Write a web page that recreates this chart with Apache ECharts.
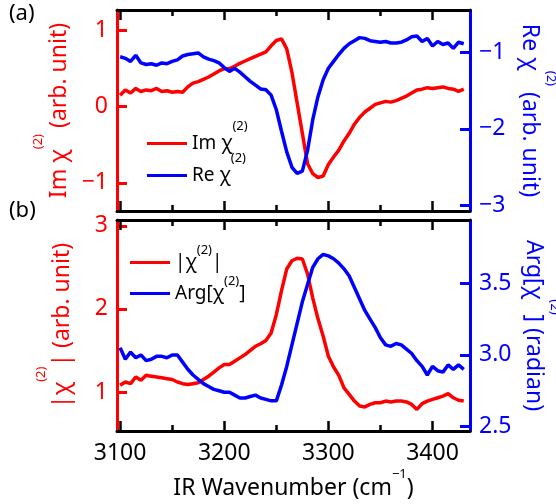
<!DOCTYPE html>
<html>
<head>
<meta charset="utf-8">
<script src="https://cdn.jsdelivr.net/npm/echarts@6/dist/echarts.min.js"></script>
<style>
  html, body { margin: 0; padding: 0; background: #fff; }
  #chart { width: 556px; height: 504px; }
</style>
</head>
<body>
<div id="chart"></div>
<script>
// IR wavenumber samples (cm^-1)
const wavenumber = [
  3100, 3105, 3110, 3115, 3120, 3125, 3130, 3135, 3140, 3145,
  3150, 3155, 3160, 3165, 3170, 3175, 3180, 3185, 3190, 3195,
  3200, 3205, 3210, 3215, 3220, 3225, 3230, 3235, 3240, 3245,
  3250, 3255, 3260, 3265, 3270, 3275, 3280, 3285, 3290, 3295,
  3300, 3305, 3310, 3315, 3320, 3325, 3330, 3335, 3340, 3345,
  3350, 3355, 3360, 3365, 3370, 3375, 3380, 3385, 3390, 3395,
  3400, 3405, 3410, 3415, 3420, 3425, 3430
];

// (a) imaginary part (left axis)
const imChi = [
  0.15, 0.22, 0.18, 0.24, 0.20, 0.22, 0.21, 0.24, 0.20, 0.21,
  0.19, 0.20, 0.19, 0.26, 0.31, 0.33, 0.36, 0.39, 0.43, 0.47,
  0.50, 0.50, 0.53, 0.57, 0.60, 0.63, 0.66, 0.69, 0.72, 0.80,
  0.87, 0.89, 0.76, 0.45, 0.05, -0.35, -0.75, -0.88, -0.93, -0.91,
  -0.76, -0.66, -0.57, -0.45, -0.35, -0.23, -0.14, -0.07, -0.02, 0.03,
  0.05, 0.07, 0.06, 0.08, 0.11, 0.14, 0.18, 0.22, 0.23, 0.25,
  0.24, 0.25, 0.26, 0.24, 0.23, 0.20, 0.23
];

// (a) real part (right axis)
const reChi = [
  -1.06, -1.08, -1.12, -1.04, -1.14, -1.16, -1.15, -1.17, -1.14, -1.15,
  -1.12, -1.10, -1.05, -1.03, -1.02, -1.01, -1.06, -1.09, -1.11, -1.14,
  -1.20, -1.25, -1.21, -1.26, -1.32, -1.38, -1.43, -1.48, -1.49, -1.56,
  -1.75, -2.03, -2.30, -2.50, -2.58, -2.55, -2.28, -1.88, -1.58, -1.36,
  -1.21, -1.12, -1.03, -0.95, -0.89, -0.85, -0.81, -0.82, -0.85, -0.86,
  -0.87, -0.86, -0.88, -0.88, -0.87, -0.84, -0.80, -0.79, -0.86, -0.82,
  -0.92, -0.86, -0.90, -0.88, -0.95, -0.87, -0.89
];

// (b) amplitude (left axis)
const absChi = [
  1.08, 1.12, 1.10, 1.18, 1.14, 1.20, 1.19, 1.18, 1.17, 1.16,
  1.15, 1.12, 1.10, 1.09, 1.10, 1.11, 1.15, 1.19, 1.24, 1.29,
  1.33, 1.33, 1.37, 1.41, 1.45, 1.50, 1.55, 1.58, 1.62, 1.71,
  1.93, 2.22, 2.48, 2.58, 2.61, 2.60, 2.42, 2.13, 1.88, 1.67,
  1.43, 1.30, 1.20, 1.05, 0.97, 0.89, 0.83, 0.82, 0.85, 0.87,
  0.87, 0.89, 0.88, 0.89, 0.89, 0.88, 0.85, 0.79, 0.86, 0.89,
  0.91, 0.93, 0.95, 0.98, 0.93, 0.90, 0.89
];

// (b) phase in radian (right axis)
const argChi = [
  3.05, 2.97, 3.02, 2.98, 3.00, 2.96, 2.97, 2.99, 2.99, 2.98,
  3.00, 3.00, 2.95, 2.90, 2.86, 2.83, 2.80, 2.78, 2.76, 2.75,
  2.74, 2.74, 2.72, 2.70, 2.70, 2.71, 2.72, 2.70, 2.69, 2.68,
  2.68, 2.79, 2.92, 3.07, 3.22, 3.37, 3.49, 3.61, 3.67, 3.70,
  3.69, 3.67, 3.64, 3.60, 3.55, 3.47, 3.39, 3.31, 3.25, 3.19,
  3.12, 3.07, 3.06, 3.08, 3.07, 3.04, 3.01, 2.96, 2.92, 2.86,
  2.92, 2.89, 2.88, 2.93, 2.90, 2.93, 2.90
];

// tick values
const xMajorTicks = [3100, 3200, 3300, 3400];
const xMinorTicks = [3150, 3250, 3350];
const imTicks = [-1, 0, 1];
const reTicks = [-3, -2, -1];
const absTicks = [1, 2, 3];
const argTicks = [2.5, 3.0, 3.5];

const FONT = '"Noto Sans", "Noto Sans CJK JP", sans-serif';
const RED = '#ff0000';
const BLUE = '#0000ff';
const X_MIN = 3097, X_MAX = 3436;

const pairs = ys => wavenumber.map((x, i) => [x, ys[i]]);
const minus = v => String(v).replace('-', '\u2212');

// superscript: small text lifted by bottom padding
function supRich(color, size, lift) {
  return {
    s: { fontSize: size, color: color, fontFamily: FONT, padding: [0, 0, lift, 0] }
  };
}

function xAxisDef(gridIndex, position, ticks, len, showLine, extra) {
  return Object.assign({
    type: 'value', gridIndex: gridIndex, position: position,
    min: X_MIN, max: X_MAX,
    axisLine: { show: showLine, onZero: false, lineStyle: { color: '#000', width: 3 } },
    axisTick: { show: true, inside: true, length: len, customValues: ticks,
                lineStyle: { color: '#000', width: 2.5 } },
    axisLabel: { show: false },
    splitLine: { show: false }
  }, extra || {});
}

function yAxisDef(gridIndex, position, min, max, ticks, color, fmt, name, nameRotate, gap) {
  return {
    type: 'value', gridIndex: gridIndex, position: position, min: min, max: max,
    axisLine: { show: true, onZero: false, lineStyle: { color: color, width: 3 } },
    axisTick: { show: true, inside: true, length: 10, customValues: ticks,
                lineStyle: { color: color, width: 3 } },
    axisLabel: { show: true, customValues: ticks, formatter: fmt, color: color,
                 fontSize: 23, fontFamily: FONT, margin: 9 },
    splitLine: { show: false },
    name: name, nameLocation: 'middle', nameGap: gap, nameRotate: nameRotate,
    nameTextStyle: { color: color, fontSize: 23, fontFamily: FONT, rich: supRich(color, 13, 42) }
  };
}

const legendText = {
  'Im': 'Im \u03c7{s|(2)}',
  'Re': 'Re \u03c7{s|(2)}',
  'Abs': '|\u03c7{s|(2)}|',
  'Arg': 'Arg[\u03c7{s|(2)}]'
};

function legendDef(name, left, top, lift) {
  return {
    data: [name], orient: 'vertical', left: left, top: top,
    icon: 'rect', itemWidth: 40, itemHeight: 3, itemGap: 0,
    formatter: n => legendText[n],
    textStyle: { color: '#000', fontSize: 19, fontFamily: FONT, rich: supRich('#000', 13, lift) },
    selectedMode: false
  };
}

const chart = echarts.init(document.getElementById('chart'), null, { renderer: 'canvas' });

chart.setOption({
  animation: false,
  backgroundColor: '#fff',
  grid: [
    { left: 117, top: 10, width: 353, height: 201, containLabel: false, outerBoundsMode: 'none' },
    { left: 117, top: 220, width: 353, height: 211, containLabel: false, outerBoundsMode: 'none' }
  ],
  xAxis: [
    xAxisDef(0, 'bottom', xMajorTicks, 10, true),
    xAxisDef(0, 'top', xMajorTicks, 10, true),
    xAxisDef(0, 'bottom', xMinorTicks, 6, false),
    xAxisDef(0, 'top', xMinorTicks, 6, false),
    xAxisDef(1, 'bottom', xMajorTicks, 10, true, {
      axisLabel: { show: true, customValues: xMajorTicks, formatter: v => String(v),
                   color: '#000', fontSize: 23, fontFamily: FONT, margin: 11 },
      name: 'IR Wavenumber (cm{s|\u22121})', nameLocation: 'middle', nameGap: 37,
      nameTextStyle: { color: '#000', fontSize: 23, fontFamily: FONT, rich: supRich('#000', 13, 28) }
    }),
    xAxisDef(1, 'top', xMajorTicks, 10, true),
    xAxisDef(1, 'bottom', xMinorTicks, 6, false),
    xAxisDef(1, 'top', xMinorTicks, 6, false)
  ],
  yAxis: [
    yAxisDef(0, 'left', -1.37, 1.27, imTicks, RED, minus, 'Im \u03c7{s|(2)} (arb. unit)', 90, 27),
    yAxisDef(0, 'right', -3.07, -0.45, reTicks, BLUE, minus, 'Re \u03c7{s|(2)} (arb. unit)', -90, 32),
    yAxisDef(1, 'left', 0.53, 3.07, absTicks, RED, v => String(v), '|\u03c7{s|(2)}| (arb. unit)', 90, 27),
    yAxisDef(1, 'right', 2.47, 3.94, argTicks, BLUE, v => v.toFixed(1), 'Arg[\u03c7{s|(2)}] (radian)', -90, 32)
  ],
  legend: [
    legendDef('Im', 142, 115, 34),
    legendDef('Re', 142, 147, 34),
    legendDef('Abs', 125, 239, 24),
    legendDef('Arg', 125, 270, 24)
  ],
  series: [
    { name: 'Im', type: 'line', xAxisIndex: 0, yAxisIndex: 0, data: pairs(imChi),
      showSymbol: false, symbol: 'none', lineStyle: { color: RED, width: 3.5 }, itemStyle: { color: RED } },
    { name: 'Re', type: 'line', xAxisIndex: 0, yAxisIndex: 1, data: pairs(reChi),
      showSymbol: false, symbol: 'none', lineStyle: { color: BLUE, width: 3.5 }, itemStyle: { color: BLUE } },
    { name: 'Abs', type: 'line', xAxisIndex: 4, yAxisIndex: 2, data: pairs(absChi),
      showSymbol: false, symbol: 'none', lineStyle: { color: RED, width: 3.5 }, itemStyle: { color: RED } },
    { name: 'Arg', type: 'line', xAxisIndex: 4, yAxisIndex: 3, data: pairs(argChi),
      showSymbol: false, symbol: 'none', lineStyle: { color: BLUE, width: 3.5 }, itemStyle: { color: BLUE } }
  ],
  graphic: [
    { type: 'text', left: 9, top: 3, style: { text: '(a)', fontSize: 22, fontFamily: FONT, fill: '#000' } },
    { type: 'text', left: 9, top: 200, style: { text: '(b)', fontSize: 22, fontFamily: FONT, fill: '#000' } }
  ]
});
</script>
</body>
</html>
